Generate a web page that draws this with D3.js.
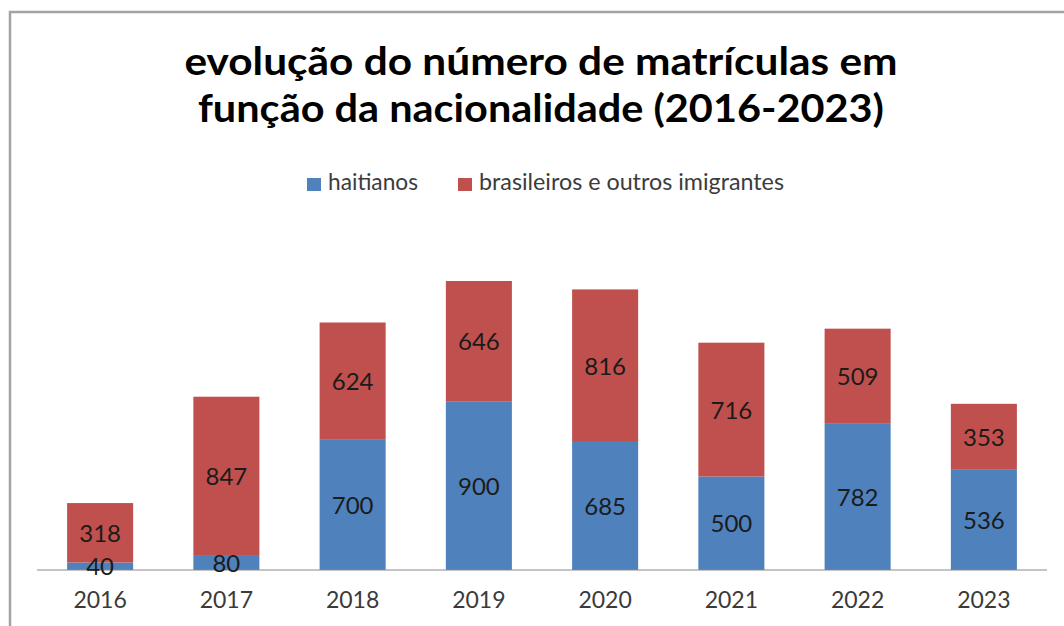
<!DOCTYPE html>
<html>
<head>
<meta charset="utf-8">
<script src="https://cdn.jsdelivr.net/npm/d3@7"></script>
<style>
  body { margin: 0; background: #fff; }
  svg { display: block; }
</style>
</head>
<body>
<svg id="chart" width="1064" height="626"></svg>
<script>
// values
let years = ["2016", "2017", "2018", "2019", "2020", "2021", "2022", "2023"];
let haitianos = [40, 80, 700, 900, 685, 500, 782, 536];
let outros = [318, 847, 624, 646, 816, 716, 509, 353];
let seriesNames = ["haitianos", "brasileiros e outros imigrantes"];
let colours = ["#4F81BD", "#C0504D"];
let titleLines = ["evolução do número de matrículas em", "função da nacionalidade (2016-2023)"];

let svg = d3.select("#chart");
let width = 1064, height = 626;
let margin = {left: 37, right: 17, top: 281, bottom: 56};
let font = "Lato, 'Open Sans', sans-serif";

// frame
svg.append("rect")
  .attr("x", 10).attr("y", 12)
  .attr("width", width).attr("height", height)
  .attr("fill", "none").attr("stroke", "#a3a3a3").attr("stroke-width", 2.5);

let rows = years.map((y, i) => ({year: y, haitianos: haitianos[i], outros: outros[i]}));
let series = d3.stack().keys(["haitianos", "outros"])(rows);

let x = d3.scaleBand()
  .domain(years)
  .range([margin.left, width - margin.right])
  .paddingInner(0.477)
  .paddingOuter(0.2385);

let y = d3.scaleLinear()
  .domain([0, d3.max(rows, d => d.haitianos + d.outros)])
  .range([height - margin.bottom, margin.top]);

let mainG = svg.append("g").attr("class", "main");

let groups = mainG.selectAll("g.serie")
  .data(series)
  .join("g")
    .attr("class", "serie")
    .attr("fill", (d, i) => colours[i]);

groups.selectAll("rect")
  .data(d => d)
  .join("rect")
    .attr("x", d => x(d.data.year))
    .attr("y", d => y(d[1]))
    .attr("width", x.bandwidth())
    .attr("height", d => y(d[0]) - y(d[1]));

// baseline
svg.append("line")
  .attr("x1", margin.left).attr("x2", width - margin.right)
  .attr("y1", y(0)).attr("y2", y(0))
  .attr("stroke", "#8a8a8a").attr("stroke-width", 1.2);

// data labels
let labels = svg.append("g").attr("class", "labels");
series.forEach(s => {
  labels.selectAll(null)
    .data(s)
    .join("text")
      .attr("x", d => x(d.data.year) + x.bandwidth() / 2)
      .attr("y", d => (y(d[0]) + y(d[1])) / 2)
      .attr("dy", "0.38em")
      .attr("text-anchor", "middle")
      .attr("font-family", font)
      .attr("font-size", 24)
      .attr("fill", "#1b1b1b")
      .text(d => d[1] - d[0]);
});

// x axis labels
let axisX = svg.append("g").attr("class", "axisX")
  .attr("transform", `translate(0,${y(0)})`)
  .call(d3.axisBottom(x).tickSize(0).tickPadding(22));
axisX.select(".domain").remove();
axisX.selectAll("text")
  .attr("font-family", font)
  .attr("font-size", 23)
  .attr("fill", "#3a3a3a");

// title
svg.append("g").attr("class", "title")
  .selectAll("text")
  .data(titleLines)
  .join("text")
    .attr("x", 541)
    .attr("y", (d, i) => 75 + i * 47)
    .attr("text-anchor", "middle")
    .attr("font-family", font)
    .attr("font-weight", 700)
    .attr("font-size", 39)
    .attr("fill", "#000")
    .attr("textLength", (d, i) => i === 0 ? 713 : 686)
    .attr("lengthAdjust", "spacingAndGlyphs")
    .text(d => d);

// legend
let legendPos = [307, 458];
let legendW = [90, 305];
let legend = svg.append("g").attr("class", "legend");
let items = legend.selectAll("g")
  .data(seriesNames)
  .join("g")
    .attr("transform", (d, i) => `translate(${legendPos[i]},0)`);
items.append("rect")
  .attr("x", 0).attr("y", 178)
  .attr("width", 14).attr("height", 13)
  .attr("fill", (d, i) => colours[i]);
items.append("text")
  .attr("x", 21).attr("y", 190)
  .attr("font-family", font)
  .attr("font-size", 23)
  .attr("fill", "#3c3c3c")
  .attr("textLength", (d, i) => legendW[i])
  .attr("lengthAdjust", "spacingAndGlyphs")
  .text(d => d);
</script>
</body>
</html>
